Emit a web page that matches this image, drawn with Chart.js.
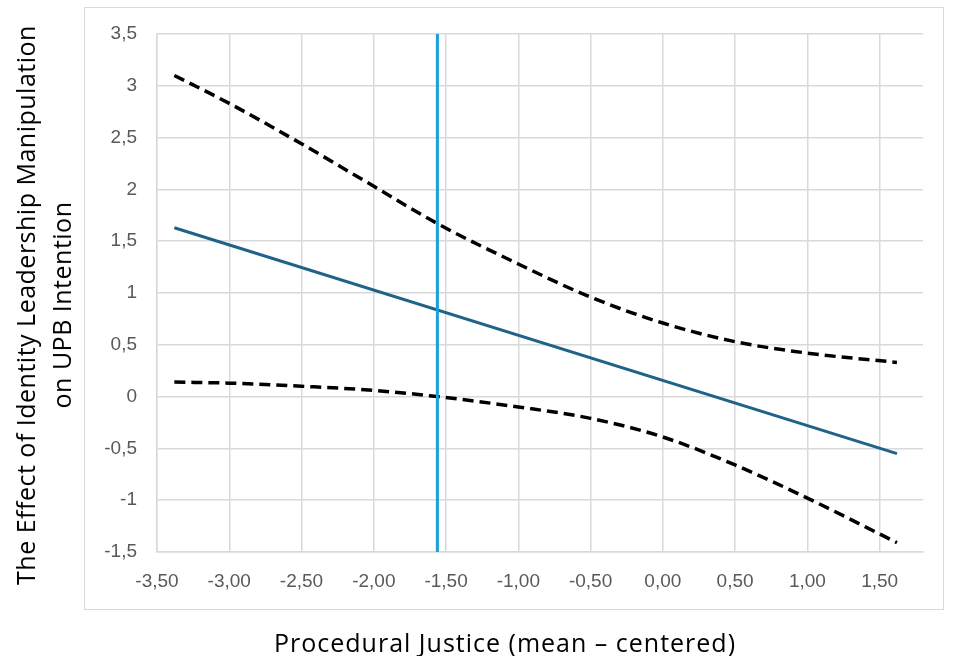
<!DOCTYPE html>
<html>
<head>
<meta charset="utf-8">
<script src="https://cdn.jsdelivr.net/npm/chart.js@4.4.1/dist/chart.umd.min.js"></script>
<style>
  html, body { margin: 0; padding: 0; background: #fff; }
  #wrap { position: relative; width: 956px; height: 656px; }
  #frame { position: absolute; left: 84px; top: 7px; width: 858px; height: 601px; border: 1px solid #d9d9d9; }
  #c { position: absolute; left: 0; top: 0; }
  .ttl { position: absolute; font-family: 'Open Sans', sans-serif; font-size: 25px; color: #000; white-space: nowrap; text-align: center; }
  #xt { left: 0; width: 1010px; top: 628px; line-height: 28px; letter-spacing: 1px; }
  #yt { left: 43px; top: 305px; width: 700px; line-height: 36px; letter-spacing: 0.5px; transform: translate(-50%, -50%) rotate(-90deg); }
</style>
</head>
<body>
<div id="wrap">
  <div id="frame"></div>
  <canvas id="c" width="956" height="656"></canvas>
  <div class="ttl" id="xt">Procedural Justice (mean – centered)</div>
  <div class="ttl" id="yt">The Effect of Identity Leadership Manipulation<br>on UPB Intention</div>
</div>
<script>
const xValues = [-3.38, -3.0, -2.5, -2.0, -1.56, -1.0, -0.5, 0.0, 0.5, 1.0, 1.62];
const upperCI = [3.10, 2.83, 2.44, 2.03, 1.67, 1.28, 0.96, 0.71, 0.53, 0.42, 0.33];
const lowerCI = [0.14, 0.13, 0.10, 0.06, 0.00, -0.10, -0.21, -0.39, -0.66, -0.98, -1.41];
const effectX = [-3.38, 1.62];
const effect = [1.63, -0.55];
const jnPoint = -1.56;
const xTicks = [-3.5, -3.0, -2.5, -2.0, -1.5, -1.0, -0.5, 0.0, 0.5, 1.0, 1.5];
const yTicks = [-1.5, -1, -0.5, 0, 0.5, 1, 1.5, 2, 2.5, 3, 3.5];

const pts = (xs, ys) => xs.map((x, i) => ({ x, y: ys[i] }));
const grid = '#d9d9d9';
const tick = '#595959';
const tickFont = { family: 'Liberation Sans', size: 19 };

new Chart(document.getElementById('c'), {
  type: 'scatter',
  data: {
    datasets: [
      {
        label: 'J-N',
        data: [{ x: jnPoint, y: yTicks[0] }, { x: jnPoint, y: yTicks[yTicks.length - 1] }],
        showLine: true,
        borderColor: '#1a9fd6',
        borderWidth: 3,
        pointRadius: 0,
      },
      {
        label: 'Effect',
        data: pts(effectX, effect),
        showLine: true,
        borderColor: '#1f6386',
        borderWidth: 3,
        pointRadius: 0,
      },
      {
        label: 'Upper',
        data: pts(xValues, upperCI),
        showLine: true,
        borderColor: '#000',
        borderWidth: 3.5,
        borderDash: [11, 6],
        cubicInterpolationMode: 'monotone',
        pointRadius: 0,
      },
      {
        label: 'Lower',
        data: pts(xValues, lowerCI),
        showLine: true,
        borderColor: '#000',
        borderWidth: 3.5,
        borderDash: [11, 6],
        cubicInterpolationMode: 'monotone',
        pointRadius: 0,
      },
    ],
  },
  options: {
    responsive: false,
    animation: false,
    layout: { padding: { top: 34, right: 33, left: 0, bottom: 0 } },
    plugins: { legend: { display: false }, tooltip: { enabled: false } },
    scales: {
      x: {
        type: 'linear',
        min: -3.5,
        max: 1.8,
        afterBuildTicks: (s) => { s.ticks = xTicks.map((v) => ({ value: v })); },
        afterFit: (s) => { s.height = 104; },
        ticks: {
          color: tick, font: tickFont, padding: 18, maxRotation: 0,
          callback: (v) => Number(v).toFixed(2).replace('.', ','),
        },
        grid: { color: grid, lineWidth: 1.5, drawTicks: false },
        border: { color: grid, width: 1.5 },
      },
      y: {
        min: -1.5,
        max: 3.5,
        afterBuildTicks: (s) => { s.ticks = yTicks.map((v) => ({ value: v })); },
        afterFit: (s) => { s.width = 157; },
        ticks: {
          color: tick, font: tickFont, padding: 20,
          callback: (v) => String(v).replace('.', ','),
        },
        grid: { color: grid, lineWidth: 1.5, drawTicks: false },
        border: { color: grid, width: 1.5 },
      },
    },
  },
});
</script>
</body>
</html>
